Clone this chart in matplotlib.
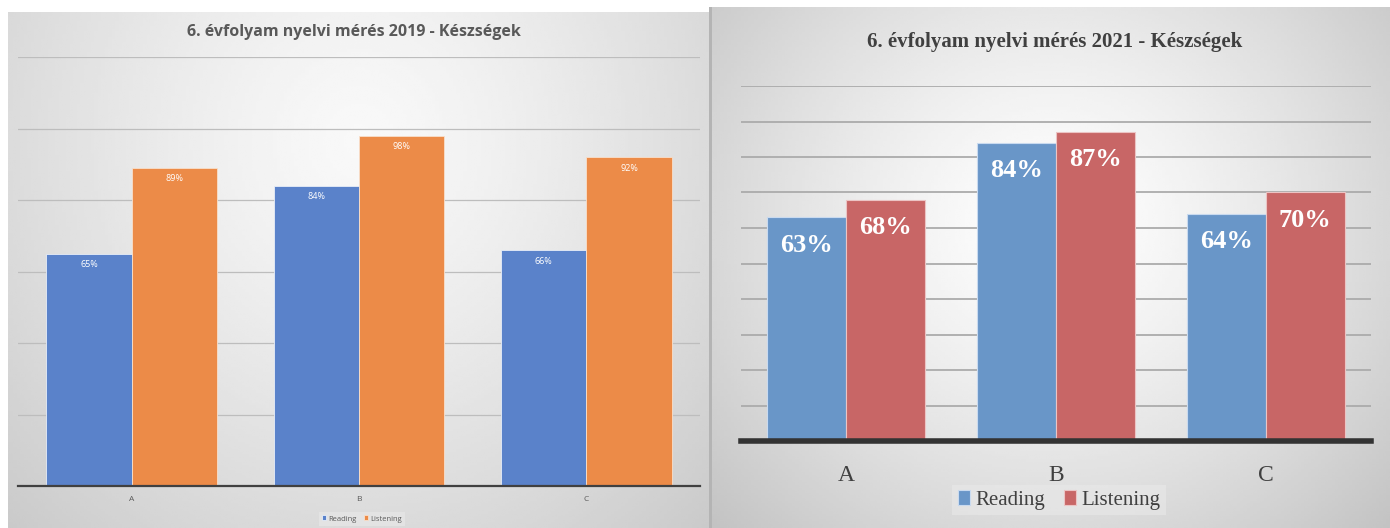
import numpy as np
import matplotlib.pyplot as plt

categories = ["A", "B", "C"]
series = ["Reading", "Listening"]

reading_2019 = [65, 84, 66]
listening_2019 = [89, 98, 92]
reading_2021 = [63, 84, 64]
listening_2021 = [68, 87, 70]

title_2019 = "6. évfolyam nyelvi mérés 2019 - Készségek"
title_2021 = "6. évfolyam nyelvi mérés 2021 - Készségek"

W, H = 1390, 528
fig = plt.figure(figsize=(W / 100, H / 100), dpi=100)
fig.patch.set_facecolor("white")

sans = ["Liberation Sans Narrow", "Open Sans", "DejaVu Sans"]
serif = ["Liberation Serif", "DejaVu Serif"]


def px(x0, y0, x1, y1):
    # pixel box (top-left origin) -> figure fraction rect
    return [x0 / W, 1 - y1 / H, (x1 - x0) / W, (y1 - y0) / H]


def gradient_bg(rect, cx, cy, light, dark, rx, ry):
    bg = fig.add_axes(rect, zorder=0)
    yy, xx = np.mgrid[0:1:200j, 0:1:200j]
    d = np.sqrt(((xx - cx) / rx) ** 2 + ((yy - cy) / ry) ** 2)
    d = np.clip(d, 0, 1)
    img = light - (light - dark) * d ** 1.3
    bg.imshow(img, cmap="gray", vmin=0, vmax=1, aspect="auto",
              extent=[0, 1, 1, 0], interpolation="bilinear")
    bg.set_axis_off()
    return bg


# panel backgrounds
gradient_bg(px(8, 12, 710, 528), 0.5, 0.25, 0.975, 0.78, 0.75, 1.1)
gradient_bg(px(712, 7, 1390, 528), 0.5, 0.42, 1.0, 0.76, 0.7, 0.85)
sep = fig.add_axes(px(709, 7, 712, 528), zorder=1)
sep.set_facecolor("#b4b4b4")
sep.set_xticks([])
sep.set_yticks([])
for s in sep.spines.values():
    s.set_visible(False)


def style_axes(ax, ymax, step, grid_c, grid_lw, base_c, base_lw):
    ax.set_facecolor("none")
    ax.set_xlim(-0.5, 2.5)
    ax.set_ylim(0, ymax)
    ax.set_yticks(np.arange(0, ymax + 1, step))
    ax.set_yticklabels([])
    ax.yaxis.grid(True, color=grid_c, linewidth=grid_lw)
    ax.set_axisbelow(True)
    for s in ["top", "left", "right"]:
        ax.spines[s].set_visible(False)
    ax.spines["bottom"].set_color(base_c)
    ax.spines["bottom"].set_linewidth(base_lw)
    ax.spines["bottom"].set_zorder(5)
    ax.tick_params(length=0)


def label_bars(ax, bars, values, offset, size, family, weight):
    for b, v in zip(bars, values):
        ax.annotate(f"{v}%", (b.get_x() + b.get_width() / 2, b.get_height()),
                    xytext=(0, offset), textcoords="offset points",
                    ha="center", va="center", color="white",
                    fontsize=size, family=family, fontweight=weight, zorder=6)


x = np.arange(len(categories))

# ---- 2019 chart ----
ax1 = fig.add_axes(px(18, 57, 700, 486), zorder=2)
style_axes(ax1, 120, 20, "#bdbdbd", 0.9, "#404040", 1.6)
w1 = 0.375
b1 = ax1.bar(x - w1 / 2, reading_2019, w1, color="#5a82ca", edgecolor="#e8eef8",
             linewidth=0.6, label=series[0], zorder=3)
b2 = ax1.bar(x + w1 / 2, listening_2019, w1, color="#ec8b48", edgecolor="#f8e0cc",
             linewidth=0.6, label=series[1], zorder=3)
label_bars(ax1, b1, reading_2019, -8, 6.5, sans, "normal")
label_bars(ax1, b2, listening_2019, -8, 6.5, sans, "normal")
ax1.set_xticks(x)
ax1.set_xticklabels(categories, fontsize=6, color="#595959", family=sans)
ax1.tick_params(axis="x", pad=7)
fig.text(354 / W, 1 - 32 / H, title_2019, ha="center", va="center",
         fontsize=11.5, fontweight="bold", color="#595959", family=sans)
leg1 = ax1.legend(loc="center", bbox_to_anchor=(362 / W, 1 - 519 / H),
                  bbox_transform=fig.transFigure, ncol=2,
                  handlelength=0.5, handleheight=0.6, handletextpad=0.3,
                  columnspacing=0.9, frameon=True, fancybox=False,
                  borderpad=0.4, prop={"family": sans, "size": 5.5})
leg1.get_frame().set_facecolor("#e6e6e6")
leg1.get_frame().set_edgecolor("none")
for t in leg1.get_texts():
    t.set_color("#595959")

# ---- 2021 chart ----
ax2 = fig.add_axes(px(741, 86, 1371, 441), zorder=2)
style_axes(ax2, 100, 10, "#ababab", 1.3, "#333333", 4)
w2 = 0.375
b3 = ax2.bar(x - w2 / 2, reading_2021, w2, color="#6996c8", edgecolor="#c9daef",
             linewidth=0.8, label=series[0], zorder=3)
b4 = ax2.bar(x + w2 / 2, listening_2021, w2, color="#c86666", edgecolor="#ecc4c4",
             linewidth=0.8, label=series[1], zorder=3)
label_bars(ax2, b3, reading_2021, -20, 19, serif, "bold")
label_bars(ax2, b4, listening_2021, -20, 19, serif, "bold")
ax2.set_xticks(x)
ax2.set_xticklabels(categories, fontsize=17, color="#404040", family=serif)
ax2.tick_params(axis="x", pad=17)
fig.text(1055 / W, 1 - 42 / H, title_2021, ha="center", va="center",
         fontsize=15, fontweight="bold", color="#404040", family=serif)
leg2 = ax2.legend(loc="center", bbox_to_anchor=(1059 / W, 1 - 500 / H),
                  bbox_transform=fig.transFigure, ncol=2,
                  handlelength=0.6, handleheight=0.7, handletextpad=0.25,
                  columnspacing=0.9, frameon=True, fancybox=False,
                  borderpad=0.25, prop={"family": serif, "size": 15})
leg2.get_frame().set_facecolor("#e9e9e9")
leg2.get_frame().set_alpha(0.6)
leg2.get_frame().set_edgecolor("none")
for t in leg2.get_texts():
    t.set_color("#404040")

fig.savefig("out.png", dpi=100)
